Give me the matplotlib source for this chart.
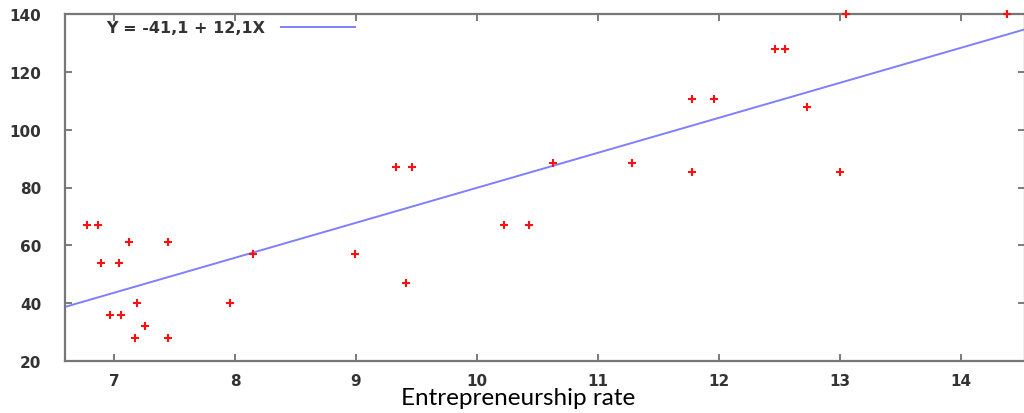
import matplotlib
matplotlib.use("Agg")
import matplotlib.pyplot as plt

# entrepreneurship rate vs. index value
rate = [6.78, 6.87, 6.89, 7.04, 7.12, 7.45, 6.97, 7.06, 7.19, 7.26, 7.17, 7.45,
        7.96, 8.15, 8.99, 9.33, 9.46, 9.41, 10.22, 10.43, 10.63, 11.28, 11.78,
        11.78, 11.96, 12.46, 12.55, 12.73, 13.00, 13.05, 14.38]
value = [67, 67, 54, 54, 61, 61, 36, 36, 40, 32, 28, 28,
         40, 57, 57, 87, 87, 47, 67, 67, 88.5, 88.5, 85.4,
         110.7, 110.7, 128, 128, 108, 85.4, 140, 140]

intercept = -41.1
slope = 12.1
fit_label = "Y = -41,1 + 12,1X"

x_ticks = [7, 8, 9, 10, 11, 12, 13, 14]
y_ticks = [20, 40, 60, 80, 100, 120, 140]
x_range = (6.595, 14.53)
y_range = (20, 140)

fig = plt.figure(figsize=(10.24, 4.14), dpi=100)
ax = fig.add_axes([65 / 1024, 52 / 414, 960 / 1024, 347 / 414])

ax.plot(rate, value, ls="none", marker="+", color="#ff1010", ms=6, mew=1.5, clip_on=False, zorder=3)
xs = list(x_range)
ax.plot(xs, [intercept + slope * x for x in xs], color="#7f7fff", lw=1.4, label=fit_label)

ax.set_xlim(*x_range)
ax.set_ylim(*y_range)
ax.set_xticks(x_ticks)
ax.set_yticks(y_ticks)
ax.tick_params(direction="in", top=True, right=True, length=5, width=1.2,
               color="#666666", labelsize=11, labelcolor="#333333")
ax.tick_params(axis="y", pad=17)
ax.tick_params(axis="x", pad=9)
for lab in ax.get_xticklabels() + ax.get_yticklabels():
    lab.set_fontweight("bold")
for sp in ax.spines.values():
    sp.set_color("#777777")
    sp.set_linewidth(1.6)

leg = ax.legend(loc="upper left", bbox_to_anchor=(0.033, 1.01), frameon=False,
                markerfirst=False, handlelength=4.6, handletextpad=1.0,
                fontsize=11.5, borderaxespad=0.2)
for t in leg.get_texts():
    t.set_fontweight("bold")
    t.set_color("#333333")

fig.text(518 / 1024, 9 / 414, "Entrepreneurship rate", family="Lato", fontsize=17.5,
         ha="center", va="baseline", color="black")

fig.savefig("out.png", dpi=100)
